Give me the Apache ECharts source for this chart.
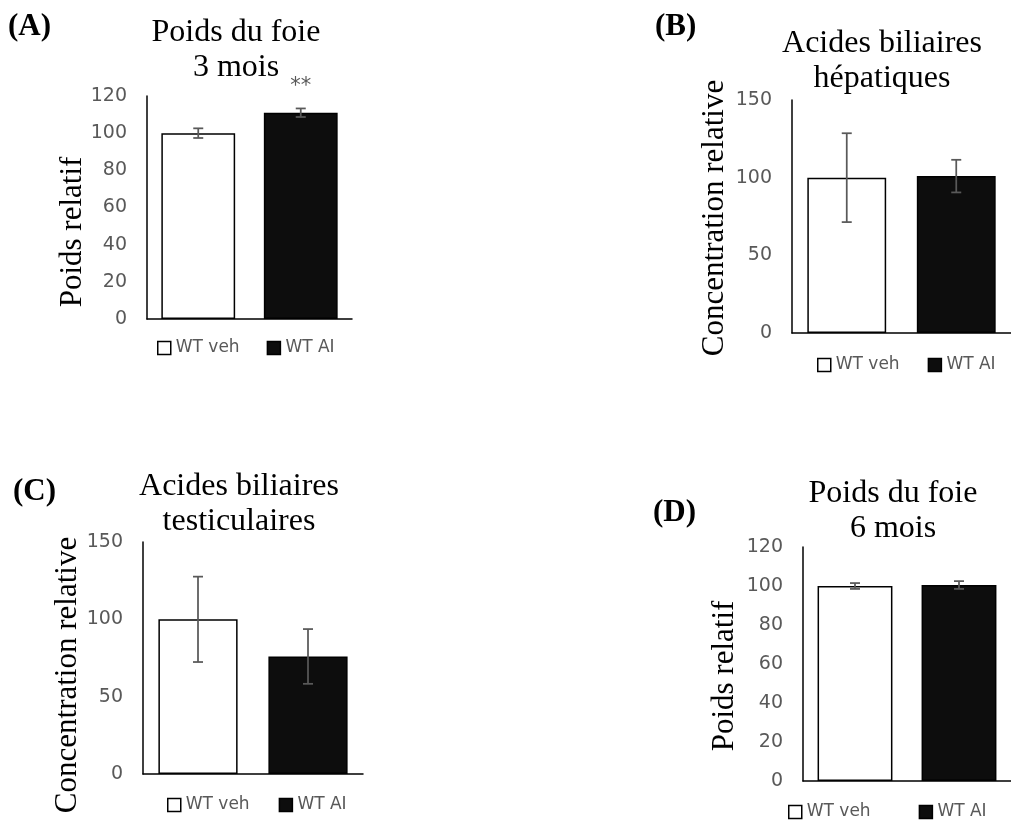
<!DOCTYPE html>
<html>
<head>
<meta charset="utf-8">
<script src="https://cdn.jsdelivr.net/npm/echarts@6/dist/echarts.min.js"></script>
<style>
html,body{margin:0;padding:0;background:#fff;}
#chart{width:1011px;height:822px;}
</style>
</head>
<body>
<div id="chart"></div>
<script>
// ---------- data ----------
const categories = ['WT veh', 'WT AI'];

const liverWeight3m = [100, 111];
const liverWeight3mErr = [2.6, 2.3];
const liverWeight3mMarks = ['', '**'];

const hepaticBileAcids = [100, 101];
const hepaticBileAcidsErr = [28.6, 10.5];

const testicularBileAcids = [100, 76];
const testicularBileAcidsErr = [27.6, 17.7];

const liverWeight6m = [100, 100.5];
const liverWeight6mErr = [1.5, 2.0];

const panelLetters = ['(A)', '(B)', '(C)', '(D)'];
const panelTitles = ['Poids du foie\n3 mois', 'Acides biliaires\nhépatiques', 'Acides biliaires\ntesticulaires', 'Poids du foie\n6 mois'];
const yAxisNames = ['Poids relatif', 'Concentration relative', 'Concentration relative', 'Poids relatif'];
const yMaxes = [120, 150, 150, 120];
const yIntervals = [20, 50, 50, 20];

const panelValues = [liverWeight3m, hepaticBileAcids, testicularBileAcids, liverWeight6m];
const panelErrors = [liverWeight3mErr, hepaticBileAcidsErr, testicularBileAcidsErr, liverWeight6mErr];
const panelMarks = [liverWeight3mMarks, [], [], []];

// ---------- layout (positions / styles) ----------
const layout = [
  {grid:{left:147, top:96, width:205, height:223}, titleX:236, titleTop:15, letterX:8, letterTop:9, nameX:73, nameY:232, legend:{left:157, top:338, gap:27}},
  {grid:{left:792, top:100, width:220, height:233}, titleX:882, titleTop:26, letterX:655, letterTop:9, nameX:715, nameY:218, legend:{left:817, top:355, gap:28}},
  {grid:{left:143, top:542, width:220, height:232}, titleX:239, titleTop:469, letterX:13, letterTop:474, nameX:68, nameY:675, legend:{left:167, top:795, gap:29}},
  {grid:{left:803, top:547, width:219, height:234}, titleX:893, titleTop:476, letterX:653, letterTop:495, nameX:725, nameY:676, legend:{left:788, top:802, gap:48}}
];

const SERIF = '"Liberation Serif", "Times New Roman", serif';
const SANS = '"DejaVu Sans", Verdana, sans-serif';
const GRAY = '#595959';

const grids = [], xAxes = [], yAxes = [], series = [], titles = [], legends = [], graphics = [];

layout.forEach((L, i) => {
  grids.push(Object.assign({containLabel:false}, L.grid));
  xAxes.push({
    type:'category', gridIndex:i, data:categories,
    axisLine:{show:true, lineStyle:{color:'#000', width:1.5}},
    axisTick:{show:false}, axisLabel:{show:false}, splitLine:{show:false}
  });
  yAxes.push({
    type:'value', gridIndex:i, min:0, max:yMaxes[i], interval:yIntervals[i],
    axisLine:{show:true, lineStyle:{color:'#000', width:1.5}},
    axisTick:{show:false}, splitLine:{show:false},
    axisLabel:{color:GRAY, fontSize:19, fontFamily:SANS, margin:20}
  });
  const vals = panelValues[i], errs = panelErrors[i], marks = panelMarks[i];
  series.push({
    name:categories[0], type:'bar', xAxisIndex:i, yAxisIndex:i,
    data:[vals[0], '-'], barWidth:'72%', barGap:'-100%',
    itemStyle:{color:'#ffffff', borderColor:'#000', borderWidth:1.5},
    emphasis:{disabled:true}
  });
  series.push({
    name:categories[1], type:'bar', xAxisIndex:i, yAxisIndex:i,
    data:['-', vals[1]], barWidth:'72%', barGap:'-100%',
    itemStyle:{color:'#0d0d0d', borderColor:'#000', borderWidth:1.5},
    emphasis:{disabled:true}
  });
  series.push({
    type:'custom', xAxisIndex:i, yAxisIndex:i, z:10,
    data: vals.map((v, j) => [j, v - errs[j], v + errs[j]]),
    encode:{x:0, y:[1, 2]},
    renderItem: function(params, api){
      const x = api.value(0);
      const lo = api.coord([x, api.value(1)]);
      const hi = api.coord([x, api.value(2)]);
      const hw = 5;
      const st = {stroke:GRAY, lineWidth:1.75};
      const children = [
        {type:'line', shape:{x1:hi[0], y1:hi[1], x2:lo[0], y2:lo[1]}, style:st},
        {type:'line', shape:{x1:hi[0]-hw, y1:hi[1], x2:hi[0]+hw, y2:hi[1]}, style:st},
        {type:'line', shape:{x1:lo[0]-hw, y1:lo[1], x2:lo[0]+hw, y2:lo[1]}, style:st}
      ];
      const m = marks[params.dataIndex];
      if (m) {
        children.push({type:'text', x:hi[0], y:hi[1]-22,
          style:{text:m, fill:GRAY, fontSize:21, fontFamily:SANS, align:'center', verticalAlign:'middle'}});
      }
      return {type:'group', children:children};
    }
  });
  titles.push({
    text:panelTitles[i], left:L.titleX, top:L.titleTop, textAlign:'center', padding:0,
    textStyle:{fontFamily:SERIF, fontSize:32, fontWeight:'normal', color:'#000', lineHeight:35}
  });
  titles.push({
    text:panelLetters[i], left:L.letterX, top:L.letterTop, padding:0,
    textStyle:{fontFamily:SERIF, fontSize:31, fontWeight:'bold', color:'#000', lineHeight:35}
  });
  legends.push({
    left:L.legend.left, top:L.legend.top, itemGap:L.legend.gap, padding:0,
    itemWidth:13, itemHeight:13, icon:'rect', selectedMode:false,
    textStyle:{color:GRAY, fontSize:17, fontFamily:SANS, lineHeight:20},
    data:[
      {name:categories[0], itemStyle:{color:'#ffffff', borderColor:'#000', borderWidth:1.5}},
      {name:categories[1], itemStyle:{color:'#0d0d0d', borderColor:'#000', borderWidth:1.5}}
    ]
  });
  graphics.push({
    type:'text', x:L.nameX, y:L.nameY, rotation:Math.PI/2,
    style:{text:yAxisNames[i], fill:'#000', fontSize:31, fontFamily:SERIF,
      align:'center', verticalAlign:'middle', textAlign:'center', textVerticalAlign:'middle'}
  });
});

const chart = echarts.init(document.getElementById('chart'), null, {renderer:'canvas'});
chart.setOption({
  backgroundColor:'#ffffff',
  animation:false,
  title:titles,
  legend:legends,
  grid:grids,
  xAxis:xAxes,
  yAxis:yAxes,
  series:series,
  graphic:graphics,
  tooltip:{show:false}
});
</script>
</body>
</html>
